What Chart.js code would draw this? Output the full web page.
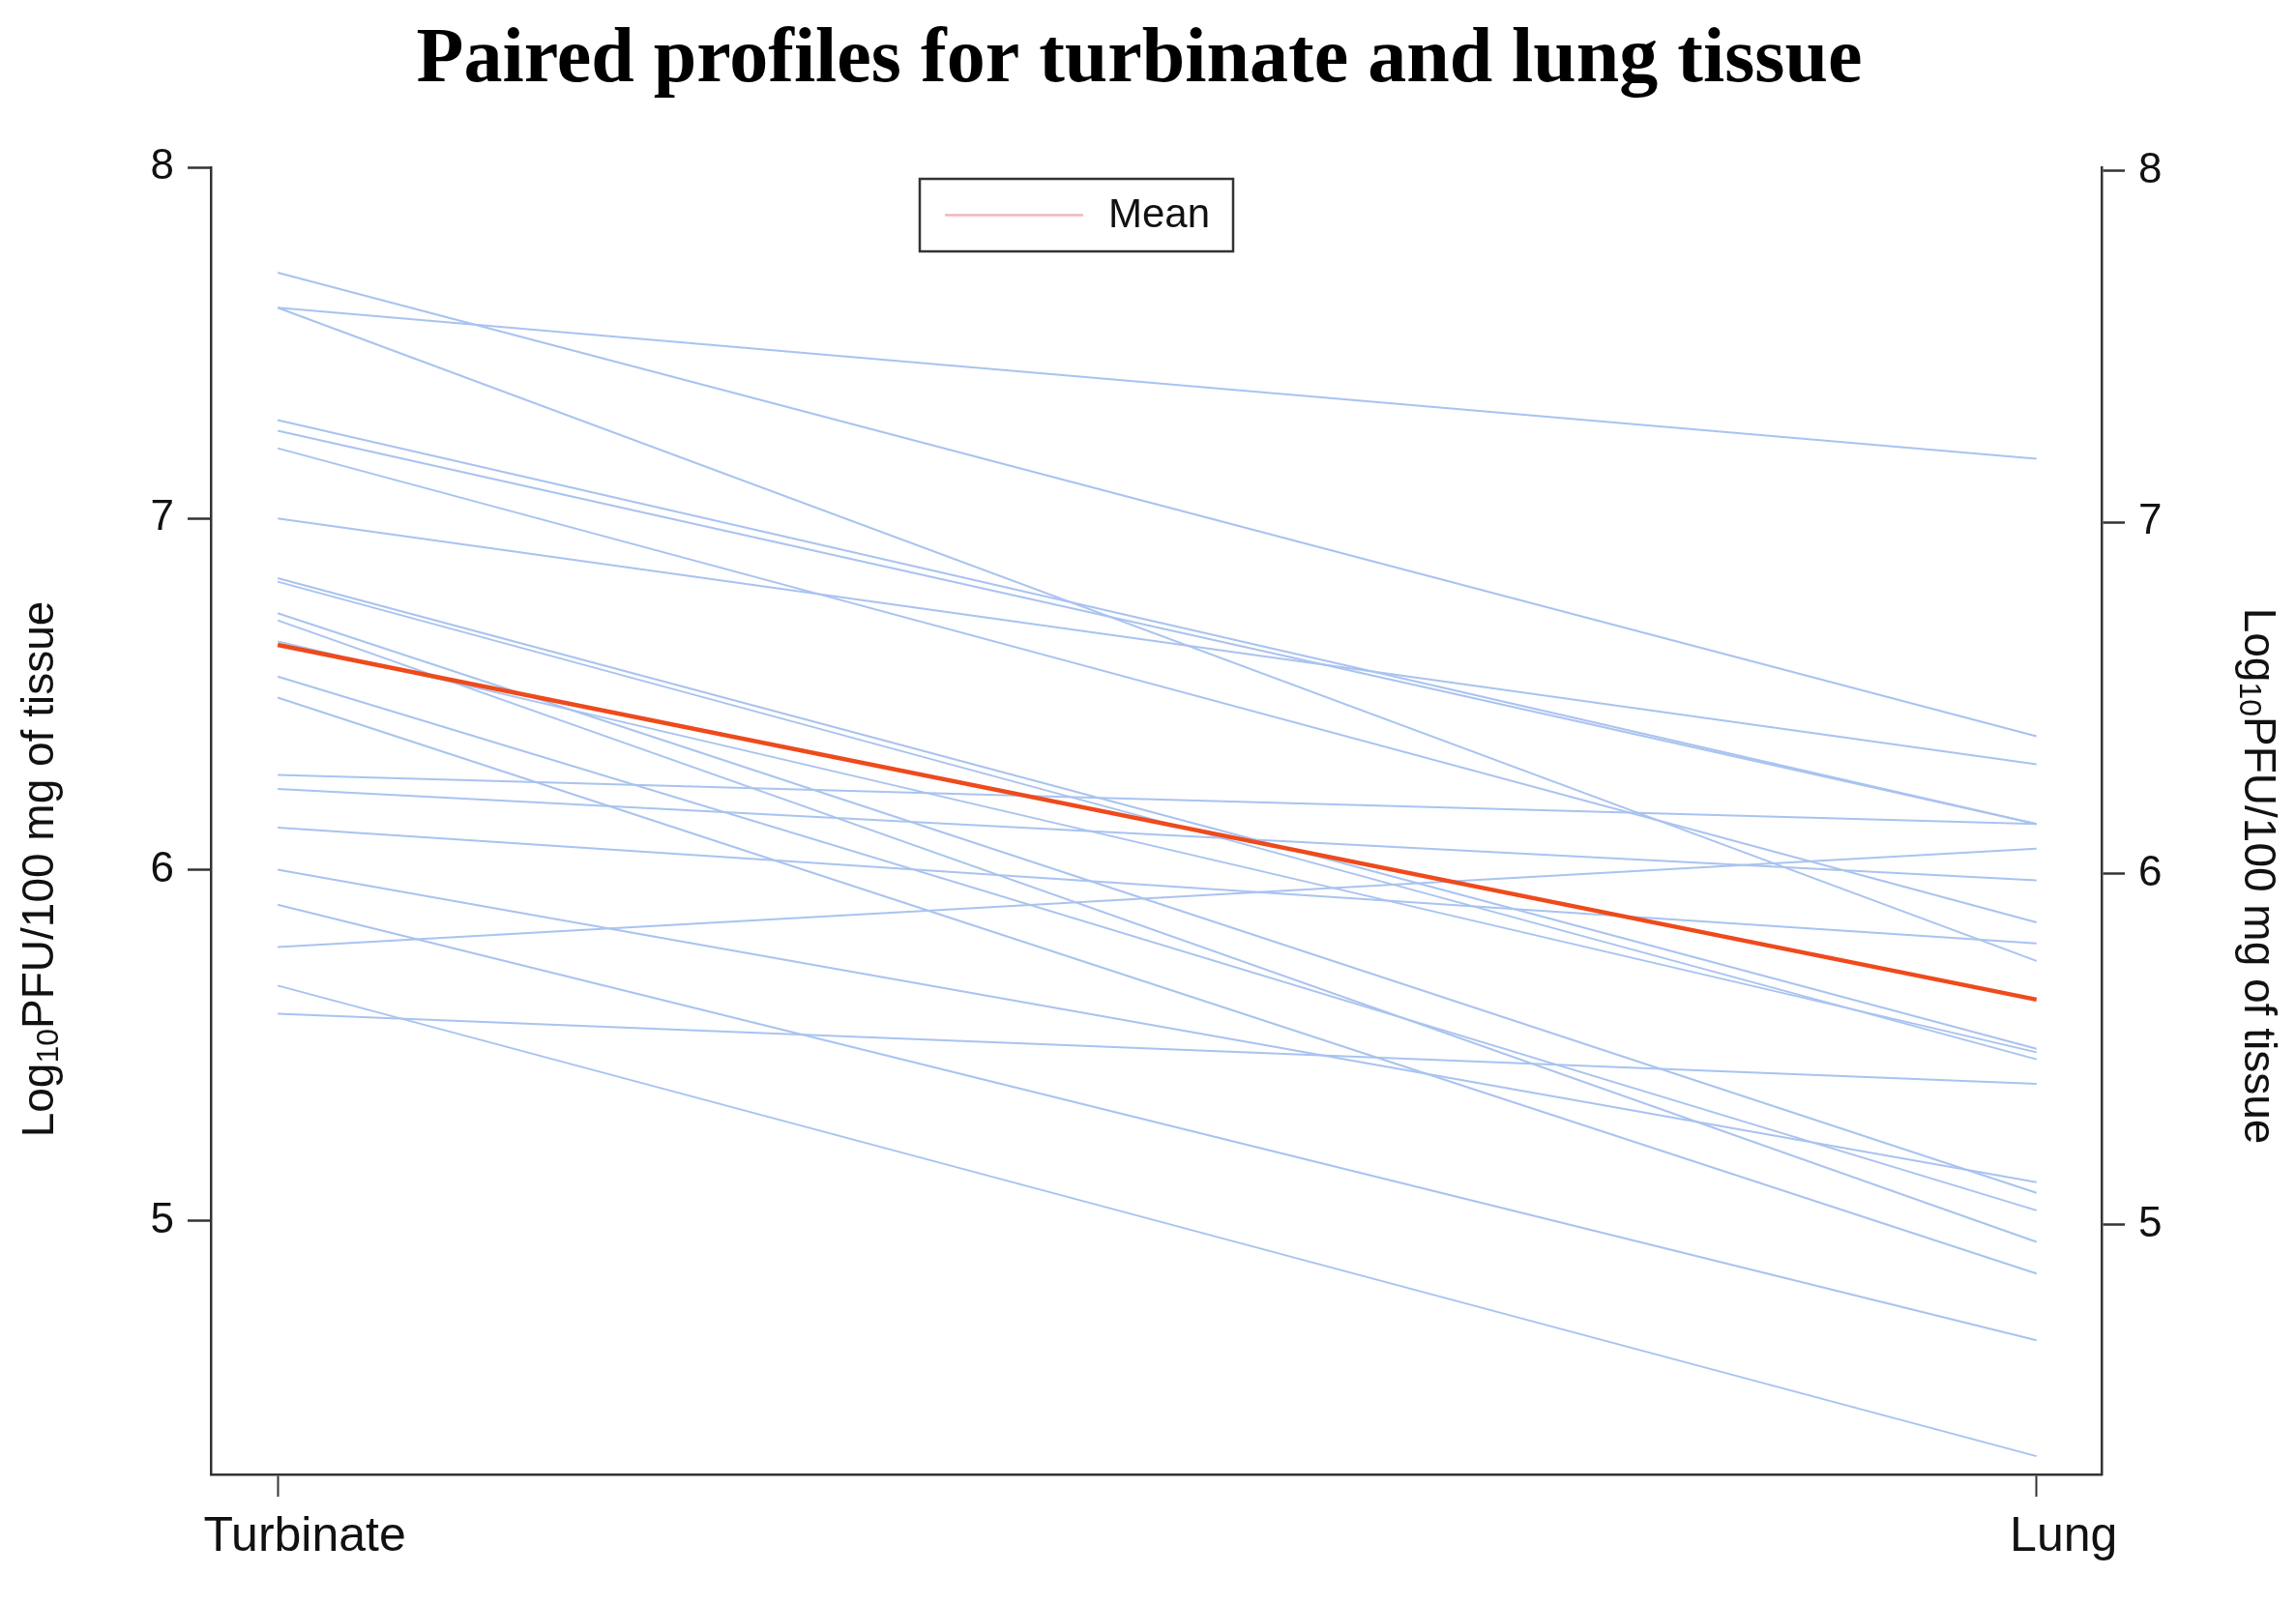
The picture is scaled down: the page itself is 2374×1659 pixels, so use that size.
<!DOCTYPE html>
<html>
<head>
<meta charset="utf-8">
<script src="https://cdn.jsdelivr.net/npm/chart.js@4.4.1/dist/chart.umd.min.js"></script>
<style>
  html, body { margin: 0; padding: 0; background: #fff; }
  #wrap { width: 2374px; height: 1659px; }
</style>
</head>
<body>
<div id="wrap"><canvas id="pairedChart"></canvas></div>
<script>
// tissue categories on the x axis
const tissues = ['Turbinate', 'Lung'];

// paired log10 PFU values, one entry per animal
const turbinate = [7.70, 7.60, 7.60, 7.28, 7.25, 7.20, 7.00, 6.83, 6.82, 6.73, 6.71,
                   6.65, 6.55, 6.49, 6.27, 6.23, 6.12, 6.00, 5.90, 5.78, 5.67, 5.59];
const lung      = [6.38, 7.17, 5.74, 6.13, 6.13, 5.85, 6.30, 5.49, 5.46, 5.08, 4.94,
                   5.48, 5.03, 4.85, 6.13, 5.97, 5.79, 5.11, 4.66, 6.06, 4.33, 5.39];

// mean profile (turbinate, lung)
const meanProfile = [6.64, 5.63];

const yTicks = [5, 6, 7, 8];

const blue = '#A9C3F0';
const axisColor = '#333333';

const profileSets = turbinate.map((t, i) => ({
    label: 'Animal ' + (i + 1),
    data: [{ x: 1, y: t }, { x: 2, y: lung[i] }],
    borderColor: blue,
    borderWidth: 2,
    pointRadius: 0,
    order: 1
}));

const meanSet = {
    label: 'Mean',
    data: meanProfile.map((v, i) => ({ x: i + 1, y: v })),
    borderColor: '#EE4A1C',
    borderWidth: 4.5,
    pointRadius: 0,
    order: 0
};

// Title, axis titles (with subscript) and boxed legend
const decorPlugin = {
    id: 'decor',
    afterDraw(chart) {
        const { ctx } = chart;
        ctx.save();

        // main title
        ctx.font = 'bold 80px "Liberation Serif"';
        ctx.fillStyle = '#000';
        ctx.textAlign = 'center';
        ctx.textBaseline = 'alphabetic';
        ctx.fillText('Paired profiles for turbinate and lung tissue', 1178, 84);

        // axis titles
        const drawTitle = (cx, cy, angle) => {
            ctx.save();
            ctx.translate(cx, cy);
            ctx.rotate(angle);
            ctx.textBaseline = 'middle';
            ctx.textAlign = 'left';
            const big = '46px "Liberation Sans"';
            const small = '32px "Liberation Sans"';
            ctx.font = big;
            const w1 = ctx.measureText('Log').width;
            const w3 = ctx.measureText('PFU/100 mg of tissue').width;
            ctx.font = small;
            const w2 = ctx.measureText('10').width;
            let x = -(w1 + w2 + w3) / 2;
            ctx.fillStyle = '#111';
            ctx.font = big;
            ctx.fillText('Log', x, 0);
            x += w1;
            ctx.font = small;
            ctx.fillText('10', x, 9);
            x += w2;
            ctx.font = big;
            ctx.fillText('PFU/100 mg of tissue', x, 0);
            ctx.restore();
        };
        drawTitle(42, 899, -Math.PI / 2);
        drawTitle(2334, 906, Math.PI / 2);

        // legend box
        const bx = 951, by = 185, bw = 324, bh = 75;
        ctx.fillStyle = '#fff';
        ctx.fillRect(bx, by, bw, bh);
        ctx.strokeStyle = axisColor;
        ctx.lineWidth = 2.5;
        ctx.strokeRect(bx, by, bw, bh);
        ctx.strokeStyle = '#F6B4B6';
        ctx.lineWidth = 2.5;
        ctx.beginPath();
        ctx.moveTo(977, by + bh / 2);
        ctx.lineTo(1120, by + bh / 2);
        ctx.stroke();
        ctx.fillStyle = '#111';
        ctx.font = '42px "Liberation Sans"';
        ctx.textAlign = 'left';
        ctx.textBaseline = 'middle';
        ctx.fillText(meanSet.label, 1146, by + bh / 2 + 1);

        ctx.restore();
    }
};

const yTickConfig = {
    color: '#111',
    font: { family: 'Liberation Sans', size: 44 },
    padding: 14
};

new Chart(document.getElementById('pairedChart'), {
    type: 'line',
    data: { datasets: [...profileSets, meanSet] },
    options: {
        responsive: true,
        maintainAspectRatio: false,
        devicePixelRatio: 1,
        animation: false,
        layout: { padding: { top: 173, left: 0, right: 0, bottom: 0 } },
        plugins: {
            legend: { display: false },
            title: { display: false },
            tooltip: { enabled: false }
        },
        scales: {
            x: {
                type: 'linear',
                min: 0.962,
                max: 2.037,
                afterBuildTicks: s => { s.ticks = [{ value: 1 }, { value: 2 }]; },
                afterFit: s => { s.height = 134; },
                ticks: {
                    callback: v => tissues[v - 1],
                    color: '#111',
                    font: { family: 'Liberation Sans', size: 50 },
                    padding: 12,
                    labelOffset: 28,
                    maxRotation: 0
                },
                grid: { drawOnChartArea: false, drawTicks: true, tickLength: 23, tickColor: axisColor, tickWidth: 2 },
                border: { display: true, color: axisColor, width: 2.5 }
            },
            y: {
                position: 'left',
                min: 4.278,
                max: 8.0,
                afterBuildTicks: s => { s.ticks = yTicks.map(v => ({ value: v })); },
                afterFit: s => { s.width = 218; },
                ticks: yTickConfig,
                grid: { drawOnChartArea: false, drawTicks: true, tickLength: 24, tickColor: axisColor, tickWidth: 2.5 },
                border: { display: true, color: axisColor, width: 2.5 }
            },
            y2: {
                position: 'right',
                min: 4.289,
                max: 8.011,
                afterBuildTicks: s => { s.ticks = yTicks.map(v => ({ value: v })); },
                afterFit: s => { s.width = 201; },
                ticks: yTickConfig,
                grid: { drawOnChartArea: false, drawTicks: true, tickLength: 24, tickColor: axisColor, tickWidth: 2.5 },
                border: { display: true, color: axisColor, width: 2.5 }
            }
        }
    },
    plugins: [decorPlugin]
});
</script>
</body>
</html>
